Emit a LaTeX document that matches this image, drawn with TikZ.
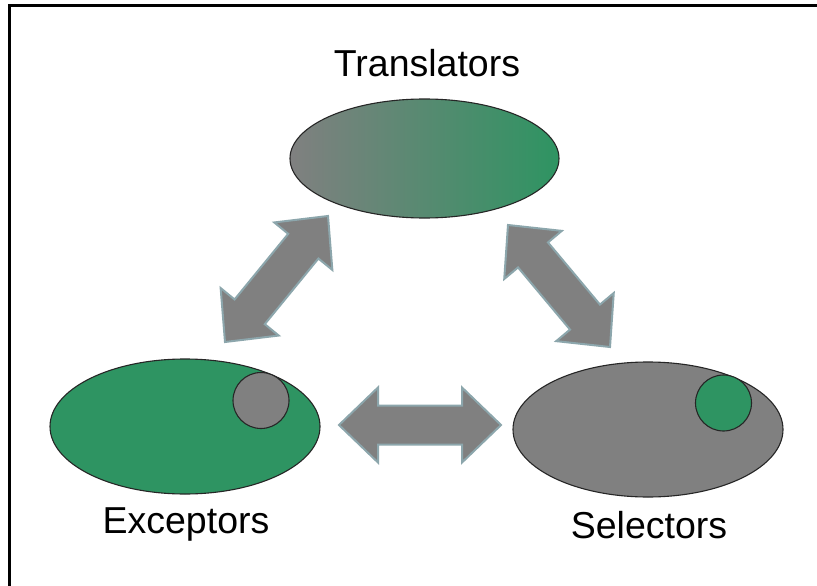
\documentclass[tikz,border=0pt]{standalone}
\usepackage{fontspec}
\setmainfont{Liberation Sans}
\usetikzlibrary{shapes.geometric,calc}
\definecolor{gn}{RGB}{46,148,98}
\definecolor{gy}{RGB}{128,128,128}
\definecolor{arrline}{RGB}{140,166,172}
\tikzset{
  blob/.style={ellipse, draw=black!85, line width=1.1pt, inner sep=0pt},
  dot/.style={circle, draw=black!85, line width=1.1pt, inner sep=0pt, minimum size=56pt},
  lbl/.style={anchor=base, font=\fontsize{37.5}{40}\selectfont},
  arr/.style={fill=gy, draw=arrline, line width=2pt, line join=miter},
}
\newcommand\dblarr[2]{%
  \coordinate (p1) at ($(#1)!39pt!(#2)$);
  \coordinate (p2) at ($(#2)!39pt!(#1)$);
  \path[arr] (#1) -- ($(p1)!37.5pt!90:(#2)$) -- ($(p1)!19.5pt!90:(#2)$)
    -- ($(p2)!19.5pt!-90:(#1)$) -- ($(p2)!37.5pt!-90:(#1)$) -- (#2)
    -- ($(p2)!37.5pt!90:(#1)$) -- ($(p2)!19.5pt!90:(#1)$)
    -- ($(p1)!19.5pt!-90:(#2)$) -- ($(p1)!37.5pt!-90:(#2)$) -- cycle;}
\begin{document}
\begin{tikzpicture}[x=1pt,y=-1pt]
\useasboundingbox[fill=white] (0,0) rectangle (817,586);
\draw[line width=3pt] (9,586) -- (9,6) -- (817,6);
% ellipses
\node[blob, minimum width=269pt, minimum height=119pt, left color=gy, right color=gn] (trans) at (424.5,158.5) {};
\node[blob, minimum width=270pt, minimum height=135pt, fill=gn] (exc) at (185,426.5) {};
\node[dot, fill=gy] (excdot) at (261,400.5) {};
\node[blob, minimum width=270pt, minimum height=135pt, fill=gy] (sel) at (648,429.5) {};
\node[dot, fill=gn] (seldot) at (723.5,403) {};
% labels
\node[lbl] (tlbl) at (427,77) {Translators};
\node[lbl] (elbl) at (186,533) {Exceptors};
\node[lbl] (slbl) at (649,538) {Selectors};
% arrows
\coordinate (a1) at (225,342);
\coordinate (b1) at (328,216);
\coordinate (a2) at (508,225);
\coordinate (b2) at (610,347);
\coordinate (a3) at (339,425);
\coordinate (b3) at (501,425);
\dblarr{a1}{b1}
\dblarr{a2}{b2}
\dblarr{a3}{b3}
\end{tikzpicture}
\end{document}
